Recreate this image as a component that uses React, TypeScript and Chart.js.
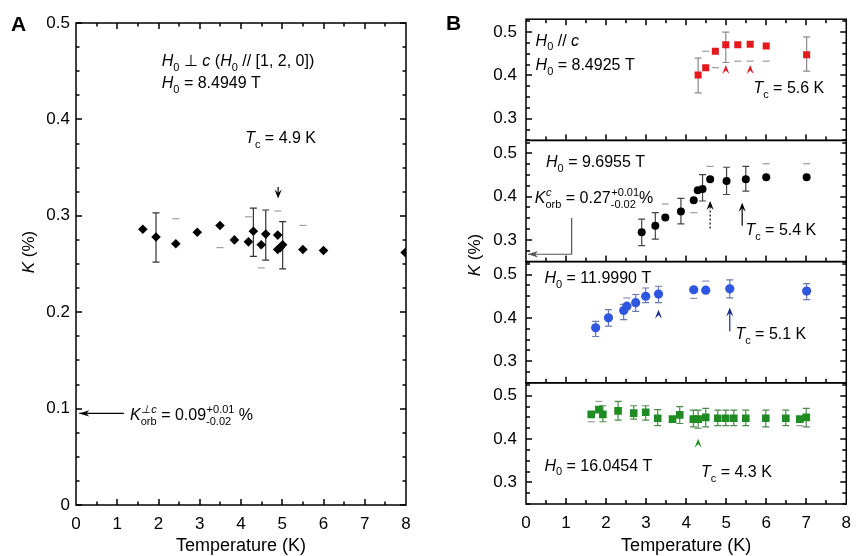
import React, { useEffect, useRef } from "react";
import { Chart, registerables } from "chart.js";
Chart.register(...registerables);

const FONT = "'Liberation Sans', Arial, Helvetica, sans-serif";

// ---------------- shared axis values ----------------
const xTickValues = [0, 1, 2, 3, 4, 5, 6, 7, 8];
const aYTickValues = [0, 0.1, 0.2, 0.3, 0.4, 0.5];
const bYTickValues = [0.3, 0.4, 0.5];

// ---------------- Panel A : H0 ⊥ c, 8.4949 T ----------------
const aTemp = [1.62, 1.94, 2.42, 2.94, 3.49, 3.84, 4.18, 4.3, 4.49, 4.6, 4.89, 4.89, 4.95, 5.01, 5.5, 6.0, 7.98];
const aK = [0.286, 0.278, 0.271, 0.283, 0.29, 0.275, 0.273, 0.284, 0.27, 0.281, 0.28, 0.265, 0.267, 0.27, 0.265, 0.264, 0.262];
const aErrHi = [null, 0.303, 0.297, null, null, null, 0.299, 0.308, null, 0.306, 0.305, null, null, 0.294, 0.29, null, null];
const aErrLo = [null, 0.252, null, null, 0.267, null, null, 0.258, 0.246, 0.254, null, null, null, 0.245, null, null, null];
const aTcArrows = [{ t: 4.9, tip: 0.318, tail: 0.33 }];
const aKorb = 0.095;

// ---------------- Panel B1 : H0 // c, 8.4925 T ----------------
const b1Temp = [4.3, 4.49, 4.73, 4.99, 5.29, 5.6, 6.0, 7.01];
const b1K = [0.401, 0.418, 0.456, 0.471, 0.471, 0.472, 0.468, 0.448];
const b1Hi = [0.44, 0.456, null, 0.5, null, null, null, 0.489];
const b1Lo = [0.36, null, 0.418, 0.43, 0.433, 0.433, 0.433, 0.41];
const b1TcArrows = [{ t: 4.99, tip: 0.424, tail: 0.402 }, { t: 5.6, tip: 0.424, tail: 0.402 }];

// ---------------- Panel B2 : 9.6955 T ----------------
const b2Temp = [2.89, 3.23, 3.48, 3.87, 4.19, 4.29, 4.41, 4.6, 5.01, 5.49, 6.0, 7.01];
const b2K = [0.318, 0.333, 0.352, 0.366, 0.392, 0.415, 0.418, 0.44, 0.436, 0.44, 0.445, 0.445];
const b2Hi = [0.348, 0.363, 0.383, 0.396, null, null, 0.451, 0.47, 0.468, 0.47, 0.476, 0.476];
const b2Lo = [0.287, 0.302, null, 0.337, 0.363, null, 0.39, null, 0.405, 0.413, null, null];
const b2TcArrows = [{ t: 4.6, tip: 0.39, tail: 0.325 }, { t: 5.4, tip: 0.386, tail: 0.333 }];
const b2Korb = 0.267;

// ---------------- Panel B3 : 11.9990 T ----------------
const b3Temp = [1.74, 2.06, 2.44, 2.52, 2.74, 2.99, 3.31, 4.19, 4.49, 5.09, 7.01];
const b3K = [0.377, 0.4, 0.417, 0.427, 0.435, 0.45, 0.455, 0.465, 0.464, 0.467, 0.462];
const b3Hi = [0.392, 0.419, 0.431, 0.446, 0.454, 0.469, 0.473, null, 0.485, 0.488, 0.479];
const b3Lo = [0.357, 0.381, 0.396, null, 0.415, 0.435, 0.435, 0.445, null, 0.446, 0.442];
const b3TcArrows = [{ t: 3.31, tip: 0.419, tail: 0.396 }, { t: 5.09, tip: 0.424, tail: 0.369 }];

// ---------------- Panel B4 : 16.0454 T ----------------
const b4Temp = [1.63, 1.82, 1.92, 2.3, 2.69, 2.99, 3.29, 3.66, 3.84, 4.18, 4.3, 4.49, 4.79, 4.99, 5.19, 5.49, 5.99, 6.49, 6.84, 7.0];
const b4K = [0.457, 0.468, 0.457, 0.465, 0.46, 0.462, 0.448, 0.446, 0.456, 0.446, 0.446, 0.45, 0.448, 0.448, 0.448, 0.448, 0.448, 0.448, 0.446, 0.45];
const b4Hi = [null, 0.487, 0.477, 0.487, 0.477, 0.477, 0.468, null, 0.475, 0.467, 0.467, 0.471, 0.467, 0.467, 0.467, 0.467, 0.467, 0.467, null, 0.471];
const b4Lo = [0.44, null, 0.44, 0.444, 0.446, 0.444, 0.431, null, 0.436, 0.428, 0.425, 0.428, 0.431, 0.431, 0.431, 0.431, 0.428, 0.431, 0.431, 0.428];
const b4TcArrows = [{ t: 4.3, tip: 0.401, tail: 0.378 }];

const RED = "#e3191e";
const BLUE = "#2f56e0";
const GREEN = "#1f8c22";
const TICK = "#000";

// ---------------- drawing helpers ----------------
type Seg = { t?: string; it?: boolean; sub?: string; sup?: string; supIt?: boolean };

const H0: Seg[] = [{ t: "H", it: true }, { sub: "0" }];
const TC: Seg[] = [{ t: "T", it: true }, { sub: "c" }];

function richWidth(ctx: CanvasRenderingContext2D, segs: Seg[], size: number) {
  let w = 0;
  const small = Math.round(size * 0.68);
  for (const s of segs) {
    if (s.t !== undefined) {
      ctx.font = `${s.it ? "italic " : ""}${size}px ${FONT}`;
      w += ctx.measureText(s.t).width;
    }
    let sw = 0;
    if (s.sup) {
      ctx.font = `${s.supIt ? "italic " : ""}${small}px ${FONT}`;
      sw = Math.max(sw, ctx.measureText(s.sup).width);
    }
    if (s.sub) {
      ctx.font = `${small}px ${FONT}`;
      sw = Math.max(sw, ctx.measureText(s.sub).width);
    }
    w += sw;
  }
  return w;
}

function drawRich(ctx: CanvasRenderingContext2D, x: number, y: number, segs: Seg[], size: number, align = "left") {
  ctx.save();
  ctx.textAlign = "left";
  ctx.textBaseline = "alphabetic";
  let cx = align === "center" ? x - richWidth(ctx, segs, size) / 2 : x;
  const small = Math.round(size * 0.68);
  for (const s of segs) {
    if (s.t !== undefined) {
      ctx.font = `${s.it ? "italic " : ""}${size}px ${FONT}`;
      ctx.fillText(s.t, cx, y);
      cx += ctx.measureText(s.t).width;
    }
    let sw = 0;
    if (s.sup) {
      ctx.font = `${s.supIt ? "italic " : ""}${small}px ${FONT}`;
      ctx.fillText(s.sup, cx + 0.5, y - size * 0.42);
      sw = Math.max(sw, ctx.measureText(s.sup).width + 0.5);
    }
    if (s.sub) {
      ctx.font = `${small}px ${FONT}`;
      ctx.fillText(s.sub, cx, y + size * 0.3);
      sw = Math.max(sw, ctx.measureText(s.sub).width);
    }
    cx += sw;
  }
  ctx.restore();
}

function drawXTicks(ctx: CanvasRenderingContext2D, xs: any, y: number, dir: number, major: number, minor: number) {
  ctx.save();
  ctx.fillStyle = TICK;
  for (let i = 1; i < 16; i++) {
    const v = i * 0.5;
    const px = Math.round(xs.getPixelForValue(v));
    const len = i % 2 === 0 ? major : minor;
    ctx.fillRect(px - 0.75, dir > 0 ? y : y - len, 1.5, len);
  }
  ctx.restore();
}

function drawYTicks(ctx: CanvasRenderingContext2D, ys: any, x: number, dir: number, major: number, minor: number) {
  ctx.save();
  ctx.fillStyle = TICK;
  const lo = Math.ceil(ys.min / 0.025 - 1e-6);
  const hi = Math.floor(ys.max / 0.025 + 1e-6);
  for (let i = lo; i <= hi; i++) {
    const py = Math.round(ys.getPixelForValue(i * 0.025));
    const len = i % 4 === 0 ? major : minor;
    ctx.fillRect(dir > 0 ? x : x - len, py - 0.75, len, 1.5);
  }
  ctx.restore();
}

function drawErrorBars(chart: any, dsIndex: number, ys: any, lo: (number | null)[], hi: (number | null)[], color: string, faint: string, cap = 3.5) {
  const ctx = chart.ctx as CanvasRenderingContext2D;
  const meta = chart.getDatasetMeta(dsIndex);
  ctx.save();
  ctx.lineWidth = 1.2;
  meta.data.forEach((el: any, i: number) => {
    const l = lo[i];
    const h = hi[i];
    if (l == null && h == null) return;
    const both = l != null && h != null;
    ctx.strokeStyle = both ? color : faint;
    ctx.beginPath();
    if (both) {
      ctx.moveTo(el.x, ys.getPixelForValue(l));
      ctx.lineTo(el.x, ys.getPixelForValue(h));
    }
    for (const v of [l, h]) {
      if (v == null) continue;
      const py = ys.getPixelForValue(v);
      ctx.moveTo(el.x - cap, py);
      ctx.lineTo(el.x + cap, py);
    }
    ctx.stroke();
  });
  ctx.restore();
}

function drawTcArrow(ctx: CanvasRenderingContext2D, x: number, yTip: number, yTail: number, color: string, dashed = false) {
  const dir = yTail >= yTip ? 1 : -1;
  const hl = 9;
  const hw = 3.6;
  ctx.save();
  ctx.fillStyle = color;
  ctx.strokeStyle = color;
  ctx.lineWidth = 1.2;
  if (Math.abs(yTail - yTip) > hl + 1) {
    ctx.setLineDash(dashed ? [2, 2] : []);
    ctx.beginPath();
    ctx.moveTo(x, yTip + dir * hl * 0.6);
    ctx.lineTo(x, yTail);
    ctx.stroke();
    ctx.setLineDash([]);
  }
  ctx.beginPath();
  ctx.moveTo(x, yTip);
  ctx.lineTo(x - hw, yTip + dir * hl);
  ctx.lineTo(x, yTip + dir * hl * 0.6);
  ctx.lineTo(x + hw, yTip + dir * hl);
  ctx.closePath();
  ctx.fill();
  ctx.restore();
}

function drawLeftArrow(ctx: CanvasRenderingContext2D, pts: [number, number][], color: string) {
  ctx.save();
  ctx.strokeStyle = color;
  ctx.fillStyle = color;
  ctx.lineWidth = 1.2;
  ctx.beginPath();
  pts.forEach(([x, y], i) => (i === 0 ? ctx.moveTo(x, y) : ctx.lineTo(x, y)));
  ctx.stroke();
  const [x0, y0] = pts[pts.length - 1];
  ctx.beginPath();
  ctx.moveTo(x0, y0);
  ctx.lineTo(x0 + 10, y0 - 3.2);
  ctx.lineTo(x0 + 7, y0);
  ctx.lineTo(x0 + 10, y0 + 3.2);
  ctx.closePath();
  ctx.fill();
  ctx.restore();
}

const tickFont = { family: FONT, size: 17 };

function xScaleOpts(padding: number, height: number) {
  return {
    type: "linear",
    min: 0,
    max: 8,
    afterBuildTicks: (s: any) => {
      s.ticks = xTickValues.map((v) => ({ value: v }));
    },
    ticks: { font: tickFont, color: "#000", padding, maxRotation: 0, autoSkip: false, callback: (v: any) => String(v) },
    grid: { display: false, drawTicks: false },
    border: { display: false },
    afterFit: (s: any) => {
      s.height = height;
    },
  };
}

function yScaleOpts(min: number, max: number, values: number[], padding: number, width: number, extra: any = {}) {
  return {
    type: "linear",
    position: "left",
    min,
    max,
    afterBuildTicks: (s: any) => {
      s.ticks = values.map((v) => ({ value: v }));
    },
    ticks: { font: tickFont, color: "#000", padding, autoSkip: false, callback: (v: any) => String(v) },
    grid: { display: false, drawTicks: false },
    border: { display: false },
    afterFit: (s: any) => {
      s.width = width;
    },
    ...extra,
  };
}

// ---------------- Panel A chart ----------------
function makeChartA(canvas: HTMLCanvasElement) {
  const plugin = {
    id: "panelA",
    beforeDatasetsDraw(chart: any) {
      drawErrorBars(chart, 0, chart.scales.y, aErrLo, aErrHi, "#333", "#a0a0a0");
    },
    afterDraw(chart: any) {
      const ctx = chart.ctx as CanvasRenderingContext2D;
      const xs = chart.scales.x;
      const ys = chart.scales.y;
      const { left, right, top, bottom } = chart.chartArea;
      const X = (v: number) => xs.getPixelForValue(v);
      const Y = (v: number) => ys.getPixelForValue(v);
      ctx.save();
      ctx.strokeStyle = "#000";
      ctx.fillStyle = "#000";
      ctx.lineWidth = 1.5;
      ctx.strokeRect(left, top, right - left, bottom - top);
      drawXTicks(ctx, xs, bottom, -1, 6, 3.5);
      drawXTicks(ctx, xs, top, 1, 6, 3.5);
      drawYTicks(ctx, ys, left, 1, 6, 3.5);
      drawYTicks(ctx, ys, right, -1, 6, 3.5);

      drawRich(ctx, X(2.08), Y(0.455), [...H0, { t: " ⊥ " }, { t: "c", it: true }, { t: " (" }, ...H0, { t: " // [1, 2, 0])" }], 16);
      drawRich(ctx, X(2.08), Y(0.4326), [...H0, { t: " = 8.4949 T" }], 16);
      drawRich(ctx, X(4.1), Y(0.3758), [...TC, { t: " = 4.9 K" }], 16);
      aTcArrows.forEach((a) => drawTcArrow(ctx, X(a.t), Y(a.tip), Y(a.tail), "#000"));

      drawLeftArrow(ctx, [[X(1.16), Y(aKorb)], [X(0.08), Y(aKorb)]], "#000");
      drawRich(
        ctx,
        X(1.31),
        Y(0.088),
        [{ t: "K", it: true }, { sup: "⊥c", sub: "orb", supIt: true }, { t: " = 0.09" }, { sup: "+0.01", sub: "-0.02" }, { t: " %" }],
        16
      );

      ctx.save();
      ctx.translate(28, 252);
      ctx.rotate(-Math.PI / 2);
      drawRich(ctx, 0, 6, [{ t: "K", it: true }, { t: " (%)" }], 17, "center");
      ctx.restore();
      ctx.font = `18px ${FONT}`;
      ctx.textAlign = "center";
      ctx.fillText("Temperature (K)", (left + right) / 2, 551);
      ctx.font = `bold 21px ${FONT}`;
      ctx.textAlign = "left";
      ctx.fillText("A", 11, 31);
      ctx.restore();
    },
  };
  return new Chart(canvas, {
    type: "scatter",
    data: {
      datasets: [
        {
          data: aTemp.map((t, i) => ({ x: t, y: aK[i] })),
          pointStyle: "rectRot",
          pointRadius: 4.8,
          pointBackgroundColor: "#000",
          pointBorderColor: "#000",
          pointBorderWidth: 0,
          showLine: false,
        },
      ],
    },
    options: {
      responsive: false,
      animation: false,
      devicePixelRatio: 1,
      events: [],
      layout: { padding: { left: 0, top: 23, right: 24, bottom: 0 } },
      plugins: { legend: { display: false }, tooltip: { enabled: false } },
      scales: {
        x: xScaleOpts(9, 51),
        y: yScaleOpts(0, 0.5, aYTickValues, 6, 76),
      },
    } as any,
    plugins: [plugin],
  } as any);
}

// ---------------- Panel B chart ----------------
const bSeries = [
  { id: "yA", temp: b1Temp, k: b1K, lo: b1Lo, hi: b1Hi, color: RED, style: "rect", r: 5, err: "#8a8a8a", faint: "#9a9a9a" },
  { id: "yB", temp: b2Temp, k: b2K, lo: b2Lo, hi: b2Hi, color: "#000", style: "circle", r: 4, err: "#444", faint: "#9a9a9a" },
  { id: "yC", temp: b3Temp, k: b3K, lo: b3Lo, hi: b3Hi, color: BLUE, style: "circle", r: 4.6, err: "#6a78b0", faint: "#8a90b0" },
  { id: "yD", temp: b4Temp, k: b4K, lo: b4Lo, hi: b4Hi, color: GREEN, style: "rect", r: 5.4, err: "#4f8a4f", faint: "#999" },
];

function makeChartB(canvas: HTMLCanvasElement) {
  const plugin = {
    id: "panelB",
    beforeDatasetsDraw(chart: any) {
      bSeries.forEach((s, i) => drawErrorBars(chart, i, chart.scales[s.id], s.lo, s.hi, s.err, s.faint));
    },
    afterDraw(chart: any) {
      const ctx = chart.ctx as CanvasRenderingContext2D;
      const xs = chart.scales.x;
      const { left, right } = chart.chartArea;
      const X = (v: number) => xs.getPixelForValue(v);
      ctx.save();
      ctx.strokeStyle = "#000";
      ctx.fillStyle = "#000";
      bSeries.forEach((s, i) => {
        const ys = chart.scales[s.id];
        ctx.lineWidth = 1.5;
        ctx.strokeRect(left, ys.top, right - left, ys.bottom - ys.top);
        drawXTicks(ctx, xs, ys.bottom, -1, 6, 4);
        if (i === 0) drawXTicks(ctx, xs, ys.top, 1, 6, 4);
        drawYTicks(ctx, ys, left, 1, 6, 4);
        drawYTicks(ctx, ys, right, -1, 6, 4);
      });
      const yA = chart.scales.yA;
      const yB = chart.scales.yB;
      const yC = chart.scales.yC;
      const yD = chart.scales.yD;

      drawRich(ctx, X(0.24), yA.getPixelForValue(0.469), [...H0, { t: " // " }, { t: "c", it: true }], 16);
      drawRich(ctx, X(0.24), yA.getPixelForValue(0.412), [...H0, { t: " = 8.4925 T" }], 16);
      drawRich(ctx, X(5.68), yA.getPixelForValue(0.36), [...TC, { t: " = 5.6 K" }], 16);
      b1TcArrows.forEach((a) => drawTcArrow(ctx, X(a.t), yA.getPixelForValue(a.tip), yA.getPixelForValue(a.tail), RED));

      drawRich(ctx, X(0.5), yB.getPixelForValue(0.468), [...H0, { t: " = 9.6955 T" }], 16);
      drawRich(
        ctx,
        X(0.22),
        yB.getPixelForValue(0.386),
        [{ t: "K", it: true }, { sup: "c", sub: "orb", supIt: true }, { t: " = 0.27" }, { sup: "+0.01", sub: "-0.02" }, { t: "%" }],
        16
      );
      drawLeftArrow(
        ctx,
        [
          [X(1.14), yB.getPixelForValue(0.351)],
          [X(1.14), yB.getPixelForValue(b2Korb)],
          [X(0.05), yB.getPixelForValue(b2Korb)],
        ],
        "#555"
      );
      drawRich(ctx, X(5.48), yB.getPixelForValue(0.312), [...TC, { t: " = 5.4 K" }], 16);
      b2TcArrows.forEach((a, i) => drawTcArrow(ctx, X(a.t), yB.getPixelForValue(a.tip), yB.getPixelForValue(a.tail), "#000", i === 0));

      drawRich(ctx, X(0.46), yC.getPixelForValue(0.481), [...H0, { t: " = 11.9990 T" }], 16);
      drawRich(ctx, X(5.23), yC.getPixelForValue(0.351), [...TC, { t: " = 5.1 K" }], 16);
      b3TcArrows.forEach((a) => drawTcArrow(ctx, X(a.t), yC.getPixelForValue(a.tip), yC.getPixelForValue(a.tail), "#1c2d8c"));

      drawRich(ctx, X(0.46), yD.getPixelForValue(0.327), [...H0, { t: " = 16.0454 T" }], 16);
      drawRich(ctx, X(4.37), yD.getPixelForValue(0.313), [...TC, { t: " = 4.3 K" }], 16);
      b4TcArrows.forEach((a) => drawTcArrow(ctx, X(a.t), yD.getPixelForValue(a.tip), yD.getPixelForValue(a.tail), GREEN));

      ctx.save();
      ctx.translate(44, 255);
      ctx.rotate(-Math.PI / 2);
      drawRich(ctx, 0, 6, [{ t: "K", it: true }, { t: " (%)" }], 17, "center");
      ctx.restore();
      ctx.font = `18px ${FONT}`;
      ctx.textAlign = "center";
      ctx.fillText("Temperature (K)", (left + right) / 2, 551);
      ctx.font = `bold 21px ${FONT}`;
      ctx.textAlign = "left";
      ctx.fillText("B", 16, 30);
      ctx.restore();
    },
  };

  // bottom panel listed first: Chart.js stacks left axes in reverse order
  const scales: any = { x: xScaleOpts(9, 52) };
  [...bSeries].reverse().forEach((s) => {
    scales[s.id] = yScaleOpts(0.25, 0.53, bYTickValues, 9, 96, { stack: "b", stackWeight: 1 });
  });

  return new Chart(canvas, {
    type: "scatter",
    data: {
      datasets: bSeries.map((s) => ({
        data: s.temp.map((t, i) => ({ x: t, y: s.k[i] })),
        yAxisID: s.id,
        pointStyle: s.style,
        pointRadius: s.r,
        pointBackgroundColor: s.color,
        pointBorderColor: s.color,
        pointBorderWidth: 0,
        showLine: false,
      })),
    },
    options: {
      responsive: false,
      animation: false,
      devicePixelRatio: 1,
      events: [],
      layout: { padding: { left: 0, top: 19, right: 4, bottom: 0 } },
      plugins: { legend: { display: false }, tooltip: { enabled: false } },
      scales,
    } as any,
    plugins: [plugin],
  } as any);
}

function ChartCanvas({ make, left }: { make: (c: HTMLCanvasElement) => Chart; left: number }) {
  const ref = useRef<HTMLCanvasElement>(null);
  useEffect(() => {
    const chart = make(ref.current as HTMLCanvasElement);
    return () => chart.destroy();
  }, [make]);
  return <canvas ref={ref} width={430} height={556} style={{ position: "absolute", left, top: 0, width: 430, height: 556 }} />;
}

export default function App() {
  return (
    <div style={{ position: "absolute", left: 0, top: 0, width: 860, height: 556, background: "#fff", overflow: "hidden" }}>
      <ChartCanvas make={makeChartA} left={0} />
      <ChartCanvas make={makeChartB} left={430} />
    </div>
  );
}
